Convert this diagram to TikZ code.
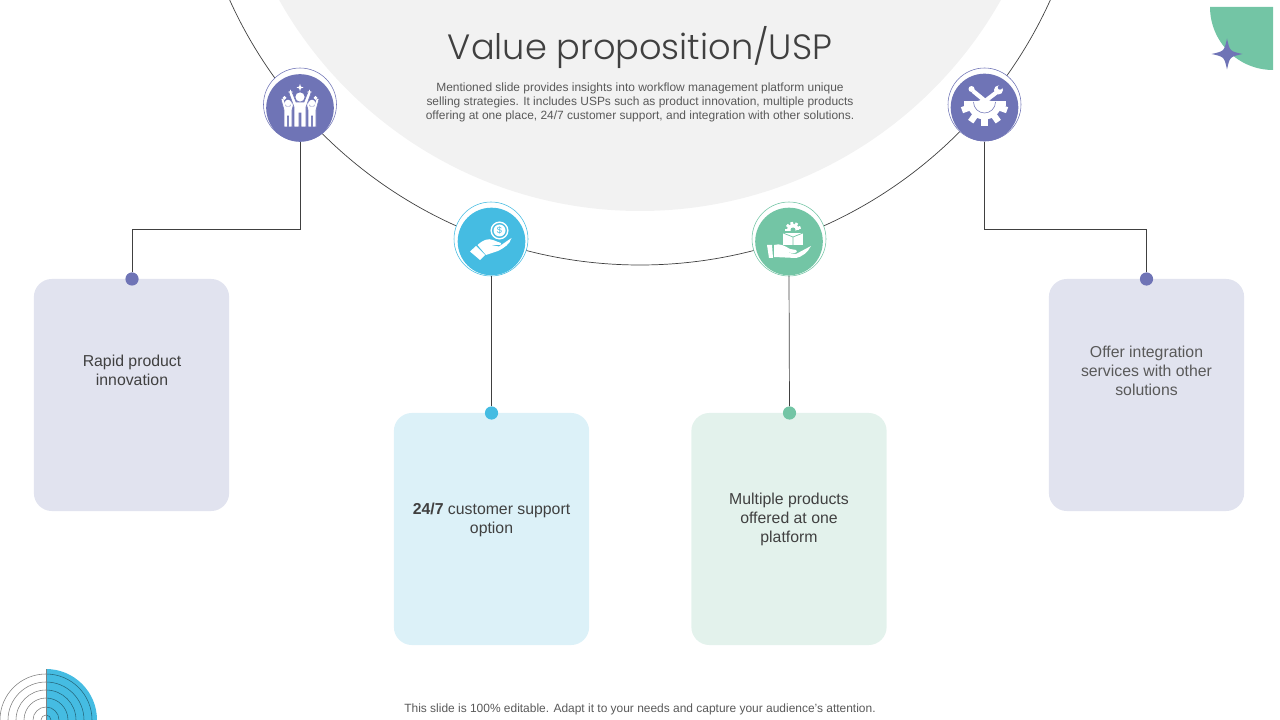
\documentclass[tikz,border=0pt]{standalone}
\usepackage{fontspec}
\setmainfont{Liberation Sans}
\newfontfamily\titlefont{Poppins Light}
\definecolor{cardpurple}{HTML}{E1E3EF}
\definecolor{cardblue}{HTML}{DCF1F8}
\definecolor{cardgreen}{HTML}{E3F2EC}
\definecolor{iconpurple}{HTML}{6F74B6}
\definecolor{iconblue}{HTML}{45BCE2}
\definecolor{icongreen}{HTML}{73C5A5}
\definecolor{softgray}{HTML}{F2F2F2}
\definecolor{bodytext}{HTML}{404040}
\definecolor{smalltext}{HTML}{595959}
\tikzset{
  card/.style={rounded corners=0.45cm, minimum width=4.88cm, minimum height=5.8cm},
  cardtext/.style={text=bodytext, align=center, font=\fontsize{11.25}{13.5}\selectfont},
  smalltxt/.style={text=smalltext, align=center, font=\fontsize{8.5}{10}\selectfont},
  icondisc/.style={circle, fill=#1, minimum size=1.69cm, inner sep=0pt},
  iconring/.style={draw=#1, line width=0.4pt, fill=white},
  pindot/.style={circle, fill=#1, minimum size=0.33cm, inner sep=0pt},
  link/.style={draw=black!75, line width=0.5pt}
}
% small four pointed star
\newcommand{\fourstar}[4]{%
  \fill[#4] (#1,#2-#3) .. controls (#1+0.18*#3,#2-0.18*#3) .. (#1+#3,#2)
    .. controls (#1+0.18*#3,#2+0.18*#3) .. (#1,#2+#3)
    .. controls (#1-0.18*#3,#2+0.18*#3) .. (#1-#3,#2)
    .. controls (#1-0.18*#3,#2-0.18*#3) .. cycle;}
\begin{document}
\begin{tikzpicture}[x=0.025cm,y=-0.025cm]

    \useasboundingbox (0,0) rectangle (1280,720);
    \clip (0,0) rectangle (1280,720);

    % --- Background shapes ---
    \fill[softgray] (640,-203) circle (414);
    \draw[link] (640,-185) circle (450);

    % Corner at the top right
    \fill[icongreen] (1273,7) -- (1273,70) arc (270:180:63 and -63) -- cycle;
    \fourstar{1227}{54}{15.5}{iconpurple}

    % Rings at the bottom left
    \fill[iconblue] (46,720) -- (46,669) arc (90:0:51 and -51) -- cycle;
    \foreach \r in {5,13,22,30,38,46} {
        \draw[black!50, line width=0.4pt] (46-\r,720) arc (180:90:{\r} and {-\r});
        \draw[black!45!iconblue, line width=0.4pt] (46,720-\r) arc (90:0:{\r} and {-\r});
    }
    \draw[black!50, line width=0.4pt] (46,669) -- (46,720);

    % --- Title and texts ---
    \node (title) at (640,48) {\titlefont\color{bodytext}\fontsize{25}{30}\selectfont Value proposition/USP};
    \node[smalltxt] (intro) at (640,102) {Mentioned slide provides insights into workflow management platform unique\\
        selling strategies. It includes USPs such as product innovation, multiple products\\
        offering at one place, 24/7 customer support, and integration with other solutions.};
    \node[smalltxt] (footer) at (640,709.5) {This slide is 100\% editable. Adapt it to your needs and capture your audience's attention.};

    % --- Rings round the icons ---
    \draw[iconring=iconpurple] (300,104.5) circle (36.5);
    \draw[iconring=iconblue] (491,239) circle (37);
    \draw[iconring=icongreen] (789,239) circle (37);
    \draw[iconring=iconpurple] (984.5,104.5) circle (36.5);

    % --- Icon discs ---
    \node[icondisc=iconpurple] (iconA) at (300,108) {};
    \node[icondisc=iconblue] (iconB) at (491.5,241.5) {};
    \node[icondisc=icongreen] (iconC) at (789,241.5) {};
    \node[icondisc=iconpurple] (iconD) at (984.5,107.5) {};

    % --- Cards ---
    \node[card, fill=cardpurple] (cardA) at (131.5,395) {};
    \node[card, fill=cardblue] (cardB) at (491.5,529) {};
    \node[card, fill=cardgreen] (cardC) at (789,529) {};
    \node[card, fill=cardpurple] (cardD) at (1146.5,395) {};

    \node[cardtext] (textA) at (132,370) {Rapid product\\innovation};
    \node[cardtext] (textB) at (491.5,520) {\textbf{24/7} customer support\\option};
    \node[cardtext] (textC) at (789,519.5) {Multiple products\\offered at one\\platform};
    \node[cardtext, text=smalltext] (textD) at (1146.5,370.5) {Offer integration\\services with other\\solutions};

    % --- Pins on the cards ---
    \node[pindot=iconpurple] (pinA) at (132,279) {};
    \node[pindot=iconblue] (pinB) at (491.5,413) {};
    \node[pindot=icongreen] (pinC) at (789.5,413) {};
    \node[pindot=iconpurple] (pinD) at (1146.5,279) {};

    % --- Connectors ---
    \coordinate (bendA) at (132,229.5);
    \coordinate (bendD) at (1146.5,229.5);
    \draw[link] (iconA.south) |- (bendA) -- (pinA);
    \draw[link] (iconB.south) -- (pinB);
    \draw[link] (iconC.south) -- (pinC);
    \draw[link] (iconD.south) |- (bendD) -- (pinD);

    % --- Icon A: three people and stars ---
    \foreach \sx in {-12,12} {
        \fill[white, draw=iconpurple, line width=0.4pt, shift={(300+\sx,108)}]
            (-7,-9) -- (-4.5,-10) -- (-2,-2) -- (2,-2) -- (4.5,-10) -- (7,-9) -- (4,2)
            -- (4,19) -- (0.6,19) -- (0.6,8) -- (-0.6,8) -- (-0.6,19) -- (-4,19) -- (-4,2) -- cycle;
        \fill[white] (300+\sx,103) circle (3.3);
    }
    \fill[white, draw=iconpurple, line width=0.4pt] (289,93) -- (292,92) -- (296,102) -- (304,102) -- (308,92) -- (311,93)
        -- (306,107) -- (306,127) -- (301,127) -- (301,113) -- (299,113) -- (299,127) -- (294,127) -- (294,107) -- cycle;
    \fill[white] (300,97) circle (4.6);
    \fourstar{300}{87.5}{3.5}{white}
    \fourstar{290.5}{92}{2.5}{white}
    \fourstar{309.5}{92}{2.5}{white}
    \fourstar{284.5}{98}{2}{white}
    \fourstar{315.5}{98}{2}{white}

    % --- Icon B: hand and coin ---
    \draw[white, line width=1pt] (499.5,230.5) circle (8.3);
    \fill[white] (499.5,230.5) circle (6);
    \node[text=iconblue, font=\fontsize{6.5}{7}\selectfont, inner sep=0pt] (coinB) at (499.5,230.5) {\$};
    \fill[white] (470,251.5) -- (476,246) -- (485,255) -- (480,260) -- cycle;
    \fill[white] (477.5,245) .. controls (483,240) and (488,238) .. (493,240) -- (498,242)
        .. controls (502,242.5) and (502,245) .. (499,245) -- (491,245) -- (499,246.5)
        -- (511.5,238) .. controls (510,244) and (504,248) .. (498,251) -- (486,255) -- cycle;

    % --- Icon C: hand and box ---
    \fill[white] (767,245) -- (772,245) -- (773,258) -- (769,258) -- cycle;
    \fill[white] (774,245) .. controls (780,243) and (785,246) .. (790,249) -- (796,250)
        .. controls (798,252) and (796,253) .. (793,253) -- (782,252) -- (796,254) -- (811,246)
        .. controls (808,252) and (802,257) .. (796,258) -- (774,257) -- cycle;
    \fill[white] (783,233) -- (803,233) -- (803,245) -- (783,245) -- cycle;
    \draw[icongreen, line width=0.5pt] (783,233) -- (793,237) -- (803,233) (793,237) -- (793,245);
    \fill[white] (787,230) arc (180:0:6 and -6) -- cycle;
    \foreach \a in {20,60,100,140,180} {
        \draw[white, line width=2pt] (793,230) -- ++(\a:8 and -8);
    }
    \fill[icongreen] (793,230) circle (2.5);

    % --- Icon D: half gear and tools ---
    \fill[white] (967,102) arc (180:360:17.5 and -17.5) -- cycle;
    \foreach \a in {200,235,270,305,340} {
        \draw[white, line width=4.5pt] (984.5,102) -- ++(\a:24 and -24);
    }
    \fill[white] (963.5,101.5) -- (1005.5,101.5) -- (1005.5,106) -- (963.5,106) -- cycle;
    \draw[iconpurple, line width=0.4pt] (973.5,102) arc (180:360:11 and -11);
    \draw[white, line width=3pt] (973,91) -- (990,105);
    \draw[white, line width=3pt] (997,92) -- (980,105);
    \fill[white] (971.5,89) circle (3);
    \fill[white] (998.5,90) circle (4.5);
    \fill[iconpurple] (1000,87.5) circle (2.2);

\end{tikzpicture}
\end{document}
